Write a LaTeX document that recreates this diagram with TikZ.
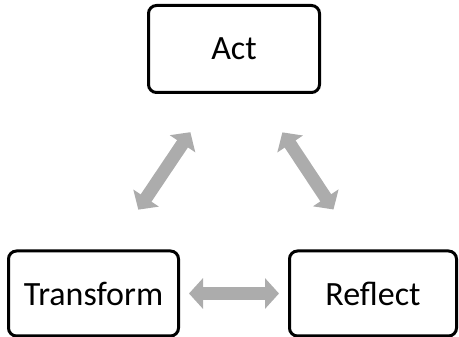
\documentclass[tikz,border=0pt]{standalone}
\usepackage{fontspec}
\setmainfont{Carlito}
\usepackage{tikz}
\usetikzlibrary{arrows.meta}
\tikzset{%
  % Specifications for style of nodes:
      stage/.style = {rectangle, rounded corners=8pt, draw=black,
                      line width=3pt, minimum width=170pt,
                      minimum height=85pt, text centered,
                      font=\fontsize{34}{38}\selectfont},
  fatarrow/.style = {draw=gray!65, line width=13pt,
                     {Triangle[width=30pt,length=14pt]}-{Triangle[width=30pt,length=14pt]}},
}
\begin{document}
\begin{tikzpicture}[node distance=244.5pt]
  \useasboundingbox (0,0) rectangle (459pt,-337pt);
  % Specification of nodes (position, etc.)
    \node (act)       [stage, minimum width=171pt, minimum height=87pt]
                                                     at (234pt,-49pt) {Act};
    \node (transform) [stage, below of=act, xshift=-140.5pt]   {Transform};
    \node (reflect)   [stage, right of=transform, xshift=35pt,
                       minimum width=167pt]                    {Reflect};
  % Specification of lines between nodes specified above
    \draw[fatarrow, shorten <=46pt, shorten >=48pt]
                    ([xshift=-18pt]act.south) -- ([xshift=18pt]transform.north);
    \draw[fatarrow, shorten <=46pt, shorten >=48pt]
                    ([xshift=23pt]act.south) -- ([xshift=-13pt]reflect.north);
    \draw[fatarrow, shorten <=9pt, shorten >=9pt]
                    (transform.east) -- (reflect.west);
  \end{tikzpicture}
\end{document}
